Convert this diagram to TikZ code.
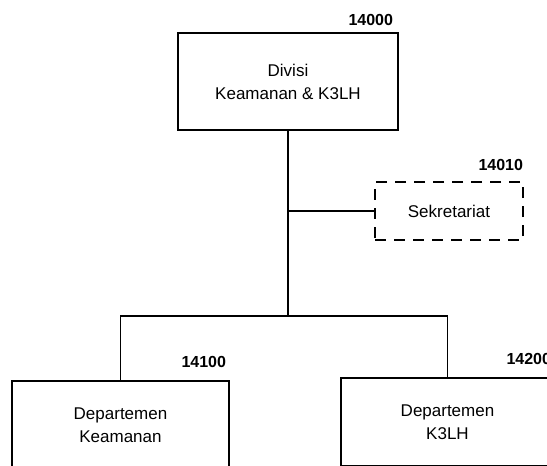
\documentclass[tikz,border=0pt]{standalone}
\usepackage{fontspec}
\setmainfont{Liberation Sans}
\usetikzlibrary{positioning}

\begin{document}
\begin{tikzpicture}[x=1pt, y=-1pt, line width=1.8pt,
  unitbox/.style={draw, rectangle, align=center, inner sep=0pt,
    font=\fontsize{17}{23}\selectfont},
  sekbox/.style={unitbox, dash pattern=on 11pt off 8pt},
  numlbl/.style={font=\bfseries\fontsize{16}{18}\selectfont, inner sep=0pt}]
  % page frame; the two departments run off its lower and right edges
  \path[use as bounding box, clip] (0,0) rectangle (547,466);

  % units
  \node[unitbox, minimum width=220pt, minimum height=97pt] (div) at (288,81.5)
    {Divisi\\Keamanan \& K3LH};
  \node[sekbox, minimum width=148pt, minimum height=58pt] (sek) at (449,211)
    {Sekretariat};
  \node[unitbox, minimum width=217pt, minimum height=88pt] (kea) at (120.5,425)
    {Departemen\\Keamanan};
  \node[unitbox, minimum width=213pt, minimum height=88pt] (k3l) at (447.5,422)
    {Departemen\\K3LH};

  % unit codes, set above the top right corner of each box
  \node[numlbl, anchor=base east] (c14000) at ([xshift=-5pt, yshift=7pt]div.north east) {14000};
  \node[numlbl, anchor=base east] (c14010) at ([yshift=11pt]sek.north east) {14010};
  \node[numlbl, anchor=base east] (c14100) at ([xshift=-3pt, yshift=13pt]kea.north east) {14100};
  \node[numlbl, anchor=base east] (c14200) at ([xshift=-3pt, yshift=13pt]k3l.north east) {14200};

  % lines of command
  \coordinate (busy) at (0,316);
  \coordinate (bus) at (div.south |- busy);
  \draw (div.south) -- (bus);
  \draw (div.south |- sek.west) -- (sek.west);
  \draw (kea.north) |- (bus) -| (k3l.north);
\end{tikzpicture}
\end{document}
